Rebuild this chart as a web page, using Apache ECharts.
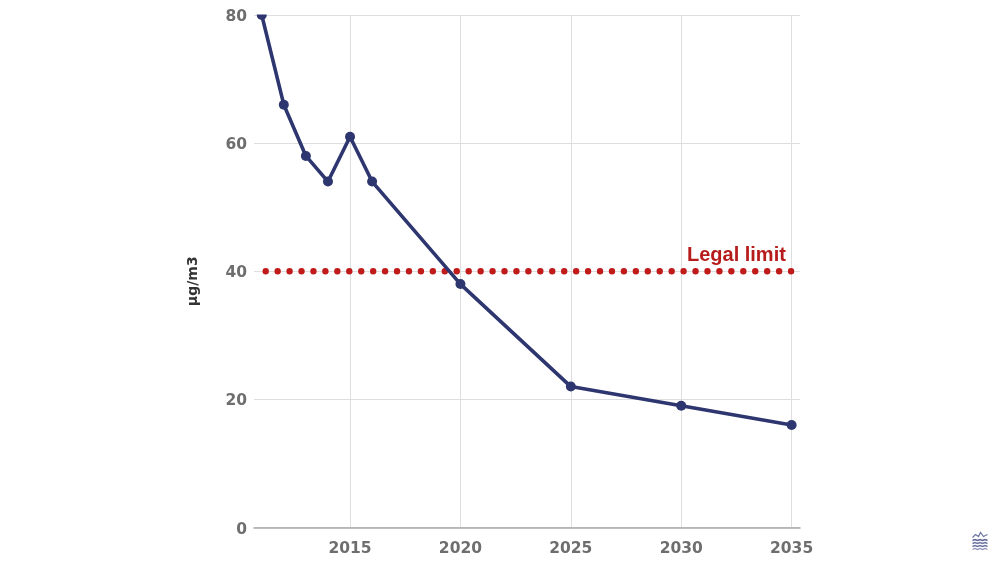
<!DOCTYPE html>
<html><head><meta charset="utf-8">
<script src="https://cdn.jsdelivr.net/npm/echarts@6/dist/echarts.min.js"></script>
<style>html,body{margin:0;padding:0;background:#fff}#c{width:1000px;height:562px}</style>
</head><body><div id="c"></div>
<script>
const years = [2011, 2012, 2013, 2014, 2015, 2016, 2020, 2025, 2030, 2035];
const values = [80, 66, 58, 54, 61, 54, 38, 22, 19, 16];
const limitYears = [2011.18, 2034.99];
const limitValue = 40;
const xTicks = [2015, 2020, 2025, 2030, 2035];
const yTicks = [0, 20, 40, 60, 80];
const unit = 'µg/m3';
const limitLabel = 'Legal limit';

const chart = echarts.init(document.getElementById('c'), null, {renderer: 'canvas'});
const tickFont = {color: '#6e6e6e', fontFamily: 'DejaVu Sans', fontWeight: 'bold', fontSize: 15.5};
chart.setOption({
  animation: false,
  backgroundColor: '#fff',
  grid: {left: 254, top: 15, width: 546, height: 512.5, containLabel: false},
  xAxis: {
    type: 'value', min: 2010.65, max: 2035.38,
    axisLine: {show: true, onZero: false, lineStyle: {color: '#a8a8a8', width: 1.5}},
    axisTick: {show: false, customValues: xTicks},
    axisLabel: Object.assign({customValues: xTicks, margin: 13, formatter: v => String(v), showMinLabel: true, showMaxLabel: true}, tickFont),
    splitLine: {show: true, lineStyle: {color: '#dedede', width: 1}}
  },
  yAxis: {
    type: 'value', min: 0, max: 80, interval: 20,
    name: unit, nameLocation: 'middle', nameGap: 54, nameRotate: 90,
    nameTextStyle: {color: '#333', fontFamily: 'DejaVu Sans', fontWeight: 'bold', fontSize: 14, padding: [0, 20, 0, 0]},
    axisLine: {show: false}, axisTick: {show: false},
    axisLabel: Object.assign({margin: 7, verticalAlign: 'top', lineHeight: 4, formatter: v => yTicks.includes(v) ? String(v) : ''}, tickFont),
    splitLine: {show: true, lineStyle: {color: '#dedede', width: 1}}
  },
  series: [
    {
      type: 'line', data: limitYears.map(y => [y, limitValue]), showSymbol: false, symbol: 'none', z: 2, clip: false,
      lineStyle: {color: '#c01a1a', width: 6.4, type: [0.01, 11.93], cap: 'round'},
      markPoint: {
        symbolSize: 0, silent: true,
        data: [{coord: [2032.5, 42.5], value: 0, label: {show: true, formatter: limitLabel, position: 'inside',
          color: '#b71c1c', fontFamily: 'Liberation Sans', fontWeight: 'bold', fontSize: 20}}]
      }
    },
    {
      type: 'line', data: years.map((y, i) => [y, values[i]]), z: 3, clip: true,
      symbol: 'circle', symbolSize: 10, showAllSymbol: true,
      lineStyle: {color: '#2e3670', width: 3.6}, itemStyle: {color: '#2e3670'}
    }
  ],
  graphic: [
    {type: 'rect', z: 100, shape: {x: 254, y: 0, width: 16, height: 14.5}, style: {fill: '#fff'}},
    {type: 'group', left: 970, top: 530, z: 100, children: [
      {type: 'polyline', shape: {points: [[0,5],[3,2],[6,4],[8,0],[11,4],[15,2]]}, style: {stroke: '#6f76a3', lineWidth: 1.2, fill: null}},
      {type: 'polyline', shape: {points: [[0,8],[2.5,7],[5,8],[7.5,7],[10,8],[12.5,7],[15,8]]}, style: {stroke: '#5c6498', lineWidth: 1.5, fill: null}},
      {type: 'polyline', shape: {points: [[0,11],[2.5,10],[5,11],[7.5,10],[10,11],[12.5,10],[15,11]]}, style: {stroke: '#6f76a3', lineWidth: 1.5, fill: null}},
      {type: 'polyline', shape: {points: [[0,14],[2.5,13],[5,14],[7.5,13],[10,14],[12.5,13],[15,14]]}, style: {stroke: '#6f76a3', lineWidth: 1.5, fill: null}},
      {type: 'polyline', shape: {points: [[0,17],[2.5,16],[5,17],[7.5,16],[10,17],[12.5,16],[15,17]]}, style: {stroke: '#8a90b5', lineWidth: 1.2, fill: null}}
    ]}
  ]
});
</script></body></html>
